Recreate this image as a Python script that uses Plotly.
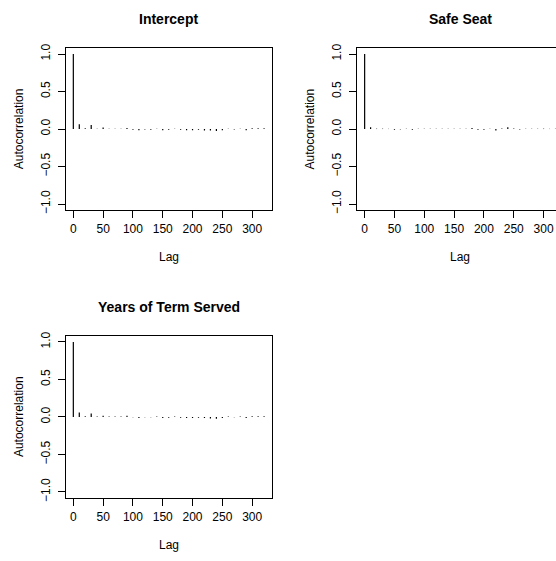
import plotly.graph_objects as go

W, H = 556, 561

lags = [0, 10, 20, 30, 40, 50, 60, 70, 80, 90, 100, 110, 120, 130, 140, 150, 160,
        170, 180, 190, 200, 210, 220, 230, 240, 250, 260, 270, 280, 290, 300, 310, 320]

acf_intercept = [1.0, 0.065, 0.01, 0.055, 0.005, 0.02, 0.005, 0.005, 0.005, 0.015,
                 -0.01, -0.015, -0.005, -0.01, 0.005, -0.015, -0.01, 0.005, -0.01,
                 -0.015, -0.015, -0.01, -0.02, -0.02, -0.025, -0.015, 0.005, -0.005,
                 0.005, -0.015, 0.01, 0.01, 0.01]

acf_safe_seat = [1.0, 0.025, 0.005, 0.005, 0.003, -0.01, -0.005, 0.003, -0.008, 0.005,
                 0.005, 0.003, 0.003, 0.003, 0.003, 0.003, 0.003, 0.005, 0.015, -0.01,
                 -0.008, 0.005, -0.02, 0.008, 0.025, 0.008, -0.005, 0.003, 0.005, 0.003,
                 0.005, 0.003, 0.003]

acf_years = [1.0, 0.06, 0.01, 0.045, 0.005, 0.015, 0.005, 0.005, 0.005, 0.015,
             -0.005, -0.015, -0.005, -0.005, 0.005, -0.015, -0.01, 0.005, -0.01,
             -0.015, -0.015, -0.01, -0.015, -0.02, -0.025, -0.015, 0.005, -0.005,
             0.005, -0.015, 0.01, 0.01, 0.01]

titles = ["Intercept", "Safe Seat", "Years of Term Served"]
x_ticks = [0, 50, 100, 150, 200, 250, 300]
y_ticks = [-1.0, -0.5, 0.0, 0.5, 1.0]
y_ticklabels = ["\u22121.0", "\u22120.5", "0.0", "0.5", "1.0"]

FONT = "Liberation Sans, Arial, Helvetica, sans-serif"

# panel boxes in window pixels: (left, right, top, bottom)
boxes = [(65.7, 271.7, 44.7, 209.0),
         (357.0, 556.0, 44.7, 209.0),
         (65.7, 271.7, 336.7, 501.0)]
xranges = [[-12.8, 332.8], [-12.8, 320.8], [-12.8, 332.8]]
series = [acf_intercept, acf_safe_seat, acf_years]

fig = go.Figure()

def py(p):
    return 1 - p / H

def px(p):
    return p / W

for i, (vals, title, box, xr) in enumerate(zip(series, titles, boxes, xranges)):
    n = i + 1
    xs, ys = [], []
    for lag, v in zip(lags, vals):
        xs += [lag, lag, None]
        ys += [0, v, None]
    xa = "x" if n == 1 else f"x{n}"
    ya = "y" if n == 1 else f"y{n}"
    fig.add_trace(go.Scatter(x=xs, y=ys, mode="lines",
                             line=dict(color="black", width=1.2),
                             xaxis=xa, yaxis=ya, showlegend=False,
                             hoverinfo="skip", cliponaxis=False))
    l, r, t, b = box
    axis_common = dict(showgrid=False, zeroline=False, showline=True,
                       linecolor="black", linewidth=1, ticks="outside",
                       ticklen=7, tickwidth=1, tickcolor="black",
                       tickfont=dict(family=FONT, size=12, color="black"))
    fig.layout[f"xaxis{'' if n == 1 else n}"] = dict(
        domain=[px(l), min(px(r), 1.0)], range=xr, anchor=ya, mirror=True,
        tickvals=x_ticks, ticktext=[str(v) for v in x_ticks],
        ticklabelstandoff=1, **axis_common)
    fig.layout[f"yaxis{'' if n == 1 else n}"] = dict(
        domain=[py(b), py(t)], range=[-1.08, 1.08], anchor=xa,
        mirror=(n != 2), tickvals=y_ticks, ticktext=y_ticklabels,
        tickangle=-90, ticklabelstandoff=3, **axis_common)

    xc = (l + (r if n != 2 else 563.7)) / 2
    fig.add_annotation(text=f"<b>{title}</b>", x=px(xc), y=py(t - 29),
                       xref="paper", yref="paper", showarrow=False,
                       xanchor="center", yanchor="middle",
                       font=dict(family=FONT, size=14, color="black"))
    fig.add_annotation(text="Lag", x=px(xc), y=py(b + 48),
                       xref="paper", yref="paper", showarrow=False,
                       xanchor="center", yanchor="middle",
                       font=dict(family=FONT, size=12, color="black"))
    fig.add_annotation(text="Autocorrelation", x=px(l - 46.5), y=py((t + b) / 2),
                       xref="paper", yref="paper", showarrow=False,
                       textangle=-90, xanchor="center", yanchor="middle",
                       font=dict(family=FONT, size=12, color="black"))

fig.update_layout(width=W, height=H, margin=dict(l=0, r=0, t=0, b=0),
                  paper_bgcolor="white", plot_bgcolor="white",
                  font=dict(family=FONT, color="black"))

fig.write_html(
    "out.html",
    config={"displayModeBar": False},
    post_script="document.body.style.margin='0';"
                "document.body.style.overflow='hidden';",
)
